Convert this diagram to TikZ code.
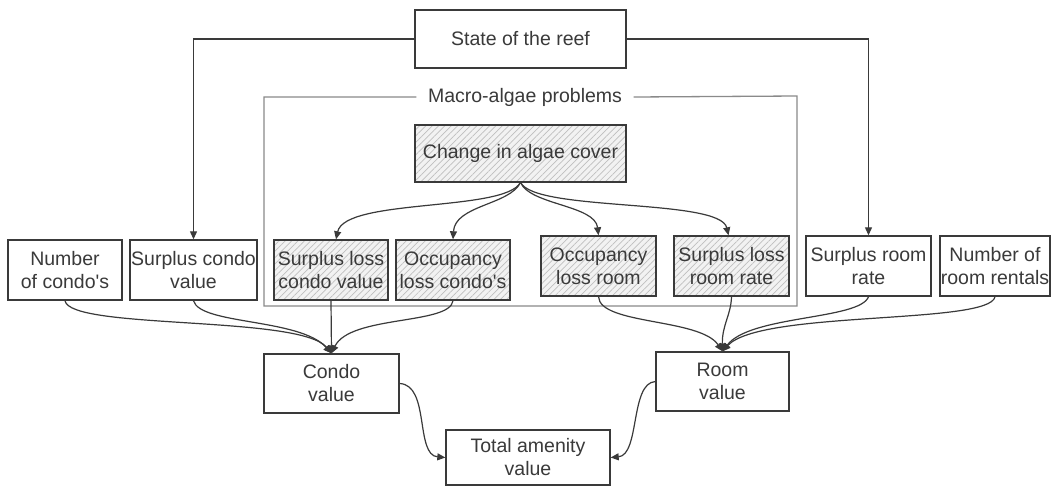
\documentclass[tikz,border=0pt]{standalone}
\usepackage{fontspec}
\setmainfont{Liberation Sans}
\usetikzlibrary{arrows.meta,patterns.meta}
\definecolor{ink}{HTML}{3A3A3A}
\definecolor{grp}{HTML}{8A8A8A}
\begin{document}
\begin{tikzpicture}[x=1pt,y=-1pt,
  every node/.style={font=\fontsize{19.5}{23}\selectfont, text=ink},
  box/.style={draw=ink, line width=1.4pt, rectangle, align=center, inner sep=0pt},
  hatch/.style={box, preaction={fill=gray!10}, pattern={Lines[angle=45,distance=4.5pt,line width=0.7pt]}, pattern color=gray!50},
  arr/.style={draw=ink, line width=1.2pt, -{Triangle[length=8pt,width=7pt]}},
  grpline/.style={draw=grp, line width=1.3pt}
]
\fill[white] (0,0) rectangle (1056,488);
\useasboundingbox (0,0) rectangle (1056,488);

\node[box, minimum width=211pt, minimum height=58pt] (state) at (520.5,39) {State of the reef};
\node (grplabel) at (525,97) {Macro-algae problems};
\node[hatch, minimum width=211pt, minimum height=57pt] (change) at (520.5,153.5) {Change in algae cover};

\node[box, minimum width=114pt, minimum height=60pt] (ncondo) at (65,270) {Number\\of condo\textquotesingle s};
\node[box, minimum width=127pt, minimum height=60pt] (scondo) at (193.5,270) {Surplus condo\\value};
\node[hatch, minimum width=114pt, minimum height=60pt] (slcondo) at (331,270) {Surplus loss\\condo value};
\node[hatch, minimum width=114pt, minimum height=60pt] (olcondo) at (453,270) {Occupancy\\loss condo\textquotesingle s};
\node[hatch, minimum width=115pt, minimum height=60pt] (olroom) at (598.5,266) {Occupancy\\loss room};
\node[hatch, minimum width=115pt, minimum height=60pt] (slroom) at (731.5,266) {Surplus loss\\room rate};
\node[box, minimum width=125pt, minimum height=60pt] (sroom) at (868.5,266) {Surplus room\\rate};
\node[box, minimum width=110pt, minimum height=60pt] (nroom) at (995,266) {Number of\\room rentals};

\node[box, minimum width=135pt, minimum height=59pt] (condo) at (331.5,383.5) {Condo\\value};
\node[box, minimum width=133pt, minimum height=59pt] (room) at (722.5,381.5) {Room\\value};
\node[box, minimum width=164pt, minimum height=55pt] (total) at (528,457.5) {Total amenity\\value};

% group frame
\coordinate (g1) at (264,97);
\coordinate (g2) at (264,306);
\coordinate (g3) at (797,306);
\coordinate (g4) at (797,96);
\draw[grpline] ([xshift=-8pt]grplabel.west) -- (g1) -- (g2) -- (g3) -- (g4) -- ([xshift=8pt]grplabel.east);

% state of reef
\draw[arr] (state.west) -| (scondo.north);
\draw[arr] (state.east) -| (sroom.north);

% algae cover
\draw[arr] (change.south) .. controls (505,212) and (345,198) .. ([xshift=5pt]slcondo.north);
\draw[arr] (change.south) .. controls (510,205) and (455,205) .. (olcondo.north);
\draw[arr] (change.south) .. controls (530,205) and (595,205) .. (olroom.north);
\draw[arr] (change.south) .. controls (535,212) and (720,198) .. ([xshift=-3pt]slroom.north);

% into condo value
\draw[arr] (ncondo.south) .. controls (70,330) and (300,315) .. (condo.north);
\draw[arr] (scondo.south) .. controls (200,325) and (300,318) .. (condo.north);
\draw[arr] (slcondo.south) -- (condo.north);
\draw[arr] (olcondo.south) .. controls (450,325) and (350,315) .. (condo.north);

% into room value
\draw[arr] (olroom.south) .. controls (600,325) and (700,318) .. (room.north);
\draw[arr] (slroom.south) .. controls (731,315) and (722,325) .. (room.north);
\draw[arr] (sroom.south) .. controls (860,320) and (750,315) .. (room.north);
\draw[arr] (nroom.south) .. controls (990,325) and (760,310) .. (room.north);

% into total
\draw[arr] (condo.east) .. controls (430,385) and (415,455) .. (total.west);
\draw[arr] (room.west) .. controls (630,383) and (640,455) .. (total.east);
\end{tikzpicture}
\end{document}
